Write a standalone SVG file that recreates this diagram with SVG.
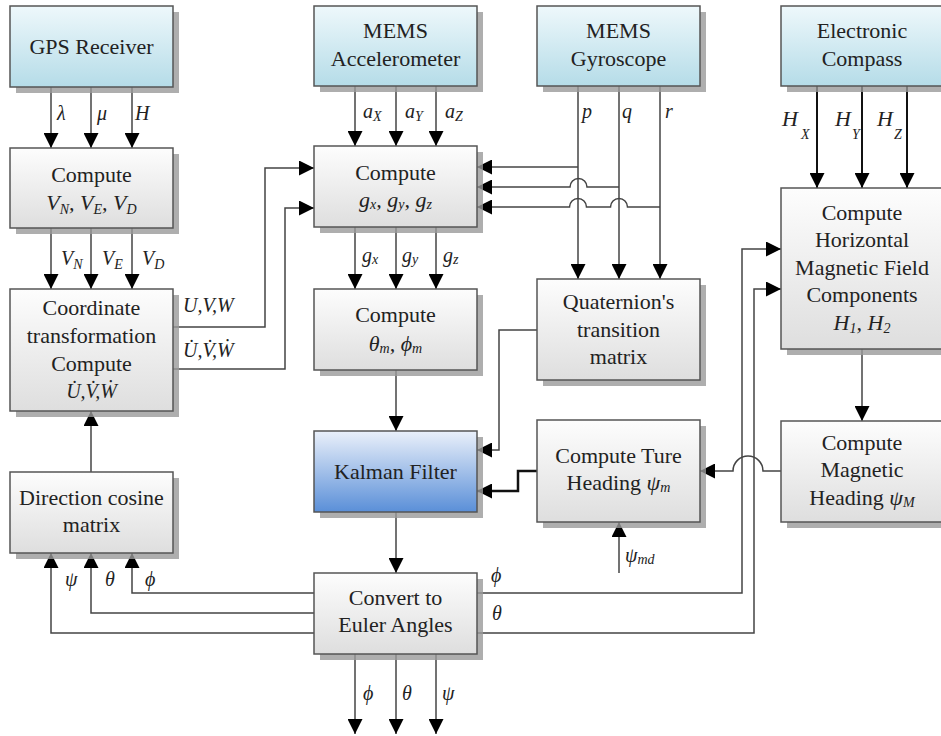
<svg xmlns="http://www.w3.org/2000/svg" width="941" height="736" viewBox="0 0 941 736">
<style>
.box{stroke:#555;stroke-width:1.5}
.sh{fill:#9a9a9a;opacity:0.8}
.t{font-size:22px;fill:#222;text-anchor:middle}
.m{font-style:italic;font-size:20px;fill:#222}
.s{font-size:14px}
.c{fill:none;stroke:#444;stroke-width:1.5}
.k{fill:none;stroke:#111;stroke-width:2.5}
</style>
<defs>
<linearGradient id="gc" x1="0" y1="0" x2="0" y2="1"><stop offset="0" stop-color="#eef8fb"/><stop offset="1" stop-color="#b5dce8"/></linearGradient>
<linearGradient id="gg" x1="0" y1="0" x2="0" y2="1"><stop offset="0" stop-color="#fdfdfd"/><stop offset="1" stop-color="#dedede"/></linearGradient>
<linearGradient id="gb" x1="0" y1="0" x2="0" y2="1"><stop offset="0" stop-color="#eaf0fa"/><stop offset="1" stop-color="#5a8fd8"/></linearGradient>
<marker id="a" markerUnits="userSpaceOnUse" markerWidth="15" markerHeight="15" refX="15" refY="7.5" orient="auto"><path d="M0,0 L15,7.5 L0,15 z" fill="#000"/></marker>
</defs>

<g id="connectors">
<path class="c" marker-end="url(#a)" d="M51,87 V148"/>
<path class="c" marker-end="url(#a)" d="M91,87 V148"/>
<path class="c" marker-end="url(#a)" d="M132,87 V148"/>
<path class="c" marker-end="url(#a)" d="M51,228 V289"/>
<path class="c" marker-end="url(#a)" d="M91,228 V289"/>
<path class="c" marker-end="url(#a)" d="M132,228 V289"/>
<path class="c" marker-end="url(#a)" d="M173,327 H265 V168 H314"/>
<path class="c" marker-end="url(#a)" d="M173,369 H285 V208 H314"/>
<path class="c" marker-end="url(#a)" d="M355,86 V146"/>
<path class="c" marker-end="url(#a)" d="M396,86 V146"/>
<path class="c" marker-end="url(#a)" d="M436,86 V146"/>
<path class="c" marker-end="url(#a)" d="M355,227 V289"/>
<path class="c" marker-end="url(#a)" d="M396,227 V289"/>
<path class="c" marker-end="url(#a)" d="M436,227 V289"/>
<path class="c" marker-end="url(#a)" d="M396,370 V431"/>
<path class="c" marker-end="url(#a)" d="M578,86 V279"/>
<path class="c" marker-end="url(#a)" d="M619,86 V279"/>
<path class="c" marker-end="url(#a)" d="M660,86 V279"/>
<path class="c" marker-end="url(#a)" d="M578,167 H477"/>
<path class="c" marker-end="url(#a)" d="M619,187 H587 A8.5,8.5 0 0 0 570,187 H477"/>
<path class="c" marker-end="url(#a)" d="M660,207 H627.5 A8.5,8.5 0 0 0 610.5,207 H586.5 A8.5,8.5 0 0 0 569.5,207 H477"/>
<path class="c" marker-end="url(#a)" d="M537,330 H499 V450 H477"/>
<path class="k" marker-end="url(#a)" d="M537,471 H518 V491 H477"/>
<path class="c" marker-end="url(#a)" d="M619,573 V522"/>
<path class="c" marker-end="url(#a)" d="M396,512 V573"/>
<path class="c" marker-end="url(#a)" d="M355,654 V734"/>
<path class="c" marker-end="url(#a)" d="M396,654 V734"/>
<path class="c" marker-end="url(#a)" d="M436,654 V734"/>
<path class="c" marker-end="url(#a)" d="M314,593 H132 V553"/>
<path class="c" marker-end="url(#a)" d="M314,613 H91 V553"/>
<path class="c" marker-end="url(#a)" d="M314,633 H51 V553"/>
<path class="c" marker-end="url(#a)" d="M91,472 V411"/>
<path class="c" marker-end="url(#a)" d="M477,593 H742 V249 H781"/>
<path class="c" marker-end="url(#a)" d="M477,633 H754 V289 H781"/>
<path class="k" style="stroke-width:2" marker-end="url(#a)" d="M817,86 V188"/>
<path class="k" style="stroke-width:2" marker-end="url(#a)" d="M862,86 V188"/>
<path class="k" style="stroke-width:2" marker-end="url(#a)" d="M907,86 V188"/>
<path class="c" marker-end="url(#a)" d="M862,349 V421"/>
<path class="c" marker-end="url(#a)" d="M781,471 H763 A15,15 0 0 0 733,471 H700"/>
</g>

<g id="labels">
<text class="m" style="font-family:Liberation Serif,serif" x="57" y="120">λ</text>
<text class="m" style="font-family:Liberation Serif,serif" x="97" y="120">μ</text>
<text class="m" style="font-family:Liberation Serif,serif" x="135" y="120">H</text>
<text class="m" style="font-family:Liberation Serif,serif" x="61" y="265">V<tspan class="s" dy="4">N</tspan></text>
<text class="m" style="font-family:Liberation Serif,serif" x="102" y="265">V<tspan class="s" dy="4">E</tspan></text>
<text class="m" style="font-family:Liberation Serif,serif" x="142" y="265">V<tspan class="s" dy="4">D</tspan></text>
<text class="m" style="font-family:Liberation Serif,serif" x="183" y="312">U,V,W</text>
<text class="m" style="font-family:Liberation Serif,serif" x="183" y="357">U̇,V̇,Ẇ</text>
<text class="m" style="font-family:Liberation Serif,serif" x="363" y="118">a<tspan class="s" dy="3">X</tspan></text>
<text class="m" style="font-family:Liberation Serif,serif" x="405" y="118">a<tspan class="s" dy="3">Y</tspan></text>
<text class="m" style="font-family:Liberation Serif,serif" x="445" y="118">a<tspan class="s" dy="3">Z</tspan></text>
<text class="m" style="font-family:Liberation Serif,serif" x="582" y="118">p</text>
<text class="m" style="font-family:Liberation Serif,serif" x="622" y="118">q</text>
<text class="m" style="font-family:Liberation Serif,serif" x="665" y="118">r</text>
<text class="m" style="font-family:Liberation Serif,serif" x="362" y="262">g<tspan class="s" dy="2">x</tspan></text>
<text class="m" style="font-family:Liberation Serif,serif" x="402" y="262">g<tspan class="s" dy="2">y</tspan></text>
<text class="m" style="font-family:Liberation Serif,serif" x="443" y="262">g<tspan class="s" dy="2">z</tspan></text>
<text class="m" style="font-family:Liberation Serif,serif;font-size:22px" x="782" y="126">H<tspan class="s" x="801" dy="13">X</tspan></text>
<text class="m" style="font-family:Liberation Serif,serif;font-size:22px" x="835" y="126">H<tspan class="s" x="852" dy="13">Y</tspan></text>
<text class="m" style="font-family:Liberation Serif,serif;font-size:22px" x="877" y="126">H<tspan class="s" x="894" dy="13">Z</tspan></text>
<text class="m" style="font-family:Liberation Serif,serif" x="625" y="562">ψ<tspan class="s" dy="2">md</tspan></text>
<text class="m" style="font-family:Liberation Serif,serif" x="363" y="700">ϕ</text>
<text class="m" style="font-family:Liberation Serif,serif" x="402" y="700">θ</text>
<text class="m" style="font-family:Liberation Serif,serif" x="442" y="700">ψ</text>
<text class="m" style="font-family:Liberation Serif,serif" x="491" y="582">ϕ</text>
<text class="m" style="font-family:Liberation Serif,serif" x="492" y="620">θ</text>
<text class="m" style="font-family:Liberation Serif,serif" x="65" y="586">ψ</text>
<text class="m" style="font-family:Liberation Serif,serif" x="105" y="586">θ</text>
<text class="m" style="font-family:Liberation Serif,serif" x="145" y="586">ϕ</text>
</g>

<g id="gps"><rect class="sh" x="16" y="12" width="163" height="81"/><rect class="box" x="10" y="6" width="163" height="81" fill="url(#gc)"/><text class="t" style="font-family:Liberation Serif,serif" x="91.5" y="54">GPS Receiver</text></g>
<g id="accelerometer"><rect class="sh" x="320" y="12" width="163" height="80"/><rect class="box" x="314" y="6" width="163" height="80" fill="url(#gc)"/><text class="t" style="font-family:Liberation Serif,serif" x="395.5" y="38">MEMS</text><text class="t" style="font-family:Liberation Serif,serif" x="395.5" y="66">Accelerometer</text></g>
<g id="gyroscope"><rect class="sh" x="543" y="12" width="163" height="80"/><rect class="box" x="537" y="6" width="163" height="80" fill="url(#gc)"/><text class="t" style="font-family:Liberation Serif,serif" x="618.5" y="38">MEMS</text><text class="t" style="font-family:Liberation Serif,serif" x="618.5" y="66">Gyroscope</text></g>
<g id="compass"><rect class="sh" x="787" y="12" width="163" height="80"/><rect class="box" x="781" y="6" width="163" height="80" fill="url(#gc)"/><text class="t" style="font-family:Liberation Serif,serif" x="862" y="38">Electronic</text><text class="t" style="font-family:Liberation Serif,serif" x="862" y="66">Compass</text></g>
<g id="compute-v"><rect class="sh" x="16" y="154" width="163" height="80"/><rect class="box" x="10" y="148" width="163" height="80" fill="url(#gg)"/><text class="t" style="font-family:Liberation Serif,serif" x="91.5" y="182">Compute</text><text class="t" style="font-family:Liberation Serif,serif;font-style:italic" x="91.5" y="210">V<tspan class="s" dy="4">N</tspan><tspan dy="-4">, V</tspan><tspan class="s" dy="4">E</tspan><tspan dy="-4">, V</tspan><tspan class="s" dy="4">D</tspan></text></g>
<g id="compute-g"><rect class="sh" x="320" y="152" width="163" height="81"/><rect class="box" x="314" y="146" width="163" height="81" fill="url(#gg)"/><text class="t" style="font-family:Liberation Serif,serif" x="395.5" y="180">Compute</text><text class="t" style="font-family:Liberation Serif,serif;font-style:italic" x="395.5" y="207">g<tspan class="s" dy="2">x</tspan><tspan dy="-2">, g</tspan><tspan class="s" dy="2">y</tspan><tspan dy="-2">, g</tspan><tspan class="s" dy="2">z</tspan></text></g>
<g id="coordinate"><rect class="sh" x="16" y="295" width="163" height="122"/><rect class="box" x="10" y="289" width="163" height="122" fill="url(#gg)"/><text class="t" style="font-family:Liberation Serif,serif" x="91.5" y="315">Coordinate</text><text class="t" style="font-family:Liberation Serif,serif" x="91.5" y="343">transformation</text><text class="t" style="font-family:Liberation Serif,serif" x="91.5" y="371">Compute</text><text class="t" style="font-family:Liberation Serif,serif;font-style:italic;font-size:20px" x="91.5" y="398">U̇,V̇,Ẇ</text></g>
<g id="compute-theta"><rect class="sh" x="320" y="295" width="163" height="81"/><rect class="box" x="314" y="289" width="163" height="81" fill="url(#gg)"/><text class="t" style="font-family:Liberation Serif,serif" x="395.5" y="322">Compute</text><text class="t" style="font-family:Liberation Serif,serif;font-style:italic" x="395.5" y="351">θ<tspan class="s" dy="2">m</tspan><tspan dy="-2">, ϕ</tspan><tspan class="s" dy="2">m</tspan></text></g>
<g id="quaternion"><rect class="sh" x="543" y="285" width="163" height="101"/><rect class="box" x="537" y="279" width="163" height="101" fill="url(#gg)"/><text class="t" style="font-family:Liberation Serif,serif" x="618.5" y="309">Quaternion's</text><text class="t" style="font-family:Liberation Serif,serif" x="618.5" y="337">transition</text><text class="t" style="font-family:Liberation Serif,serif" x="618.5" y="364">matrix</text></g>
<g id="horizontal"><rect class="sh" x="787" y="194" width="163" height="161"/><rect class="box" x="781" y="188" width="163" height="161" fill="url(#gg)"/><text class="t" style="font-family:Liberation Serif,serif" x="862" y="220">Compute</text><text class="t" style="font-family:Liberation Serif,serif" x="862" y="247">Horizontal</text><text class="t" style="font-family:Liberation Serif,serif" x="862" y="275">Magnetic Field</text><text class="t" style="font-family:Liberation Serif,serif" x="862" y="302">Components</text><text class="t" style="font-family:Liberation Serif,serif;font-style:italic" x="862" y="330">H<tspan class="s" dy="3">1</tspan><tspan dy="-3">, H</tspan><tspan class="s" dy="3">2</tspan></text></g>
<g id="kalman"><rect class="sh" x="320" y="437" width="163" height="81"/><rect class="box" x="314" y="431" width="163" height="81" fill="url(#gb)"/><text class="t" style="font-family:Liberation Serif,serif" x="395.5" y="479">Kalman Filter</text></g>
<g id="ture-heading"><rect class="sh" x="543" y="426" width="163" height="102"/><rect class="box" x="537" y="420" width="163" height="102" fill="url(#gg)"/><text class="t" style="font-family:Liberation Serif,serif" x="618.5" y="463">Compute Ture</text><text class="t" style="font-family:Liberation Serif,serif" x="618.5" y="490">Heading <tspan style="font-style:italic">ψ</tspan><tspan class="s" dy="2" style="font-style:italic">m</tspan></text></g>
<g id="magnetic-heading"><rect class="sh" x="787" y="427" width="163" height="101"/><rect class="box" x="781" y="421" width="163" height="101" fill="url(#gg)"/><text class="t" style="font-family:Liberation Serif,serif" x="862" y="450">Compute</text><text class="t" style="font-family:Liberation Serif,serif" x="862" y="477">Magnetic</text><text class="t" style="font-family:Liberation Serif,serif" x="862" y="505">Heading <tspan style="font-style:italic">ψ</tspan><tspan class="s" dy="2" style="font-style:italic">M</tspan></text></g>
<g id="dcm"><rect class="sh" x="16" y="478" width="163" height="81"/><rect class="box" x="10" y="472" width="163" height="81" fill="url(#gg)"/><text class="t" style="font-family:Liberation Serif,serif" x="91.5" y="505">Direction cosine</text><text class="t" style="font-family:Liberation Serif,serif" x="91.5" y="532">matrix</text></g>
<g id="euler"><rect class="sh" x="320" y="579" width="163" height="81"/><rect class="box" x="314" y="573" width="163" height="81" fill="url(#gg)"/><text class="t" style="font-family:Liberation Serif,serif" x="395.5" y="605">Convert to</text><text class="t" style="font-family:Liberation Serif,serif" x="395.5" y="632">Euler Angles</text></g>
</svg>
